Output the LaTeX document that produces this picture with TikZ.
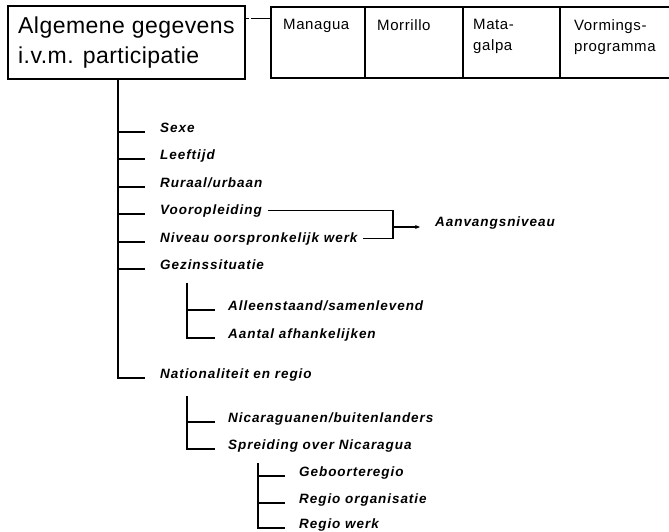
\documentclass[tikz,border=0pt]{standalone}
\usepackage{fontspec}
\setmainfont{Liberation Sans}
\newfontfamily\boxfont[LetterSpace=2]{Liberation Sans}
\newfontfamily\cellfont[LetterSpace=4]{Liberation Sans}
\newfontfamily\itemfont[LetterSpace=7]{Liberation Sans}
\usetikzlibrary{arrows.meta,calc}

\tikzset{
  rule/.style={line width=1.2pt},
  item/.style={anchor=base west, inner sep=0pt,
    font={\itemfont\bfseries\itshape\fontsize{13.5}{15}\selectfont}},
  cell/.style={draw, rule, anchor=north west, minimum height=71pt,
    inner sep=0pt, outer sep=0pt},
  celltext/.style={anchor=north west, inner sep=0pt, align=left,
    font={\cellfont\fontsize{15}{21}\selectfont}},
}

\begin{document}
\begin{tikzpicture}[x=1pt,y=-1pt]
\useasboundingbox (0,0) rectangle (669,532);

% title box
\node[draw, rule, anchor=north west, outer sep=0pt, minimum width=237pt,
      minimum height=73pt, inner sep=0pt, align=left,
      font={\boxfont\fontsize{23}{30}\selectfont}]
  (main) at (8,6) {Algemene gegevens\\i.v.m. participatie};

% header cells
\node[cell, minimum width=94pt]  (c1) at (271,7) {};
\node[cell, minimum width=98pt]  (c2) at (c1.north east) {};
\node[cell, minimum width=97pt]  (c3) at (c2.north east) {};
\node[cell, minimum width=140pt] (c4) at (c3.north east) {};
\node[celltext] (t1) at ([xshift=12pt,yshift=-12pt]c1.north west) {Managua};
\node[celltext] (t2) at ([xshift=12pt,yshift=-12pt]c2.north west) {Morrillo};
\node[celltext] (t3) at ([xshift=10pt,yshift=-12pt]c3.north west) {Mata-\\galpa};
\node[celltext] (t4) at ([xshift=14pt,yshift=-12pt]c4.north west) {Vormings-\\programma};

% link between title box and header
\coordinate (j) at ([yshift=-13pt]main.north east);
\draw[line width=1pt, dash pattern=on 4pt off 2pt on 30pt] (j) -- (j -| c1.west);

% items
\node[item] (sexe)  at (160,132) {Sexe};
\node[item] (leef)  at (160,159) {Leeftijd};
\node[item] (rur)   at (160,187) {Ruraal/urbaan};
\node[item] (voor)  at (160,214) {Vooropleiding};
\node[item] (niv)   at (160,242) {Niveau oorspronkelijk werk};
\node[item] (gez)   at (160,269) {Gezinssituatie};
\node[item] (alle)  at (228,310) {Alleenstaand/samenlevend};
\node[item] (aant)  at (228,338) {Aantal afhankelijken};
\node[item] (nat)   at (160,378) {Nationaliteit en regio};
\node[item] (nic)   at (228,422) {Nicaraguanen/buitenlanders};
\node[item] (spr)   at (228,449) {Spreiding over Nicaragua};
\node[item] (geb)   at (299,476) {Geboorteregio};
\node[item] (rorg)  at (299,503) {Regio organisatie};
\node[item] (rwerk) at (299,528) {Regio werk};
\node[item] (aanv)  at (435,226) {Aanvangsniveau};

% main trunk
\coordinate (t0) at (118,0 |- main.south);
\foreach \n in {sexe,leef,rur,voor,niv,gez}
  \draw[rule] (t0 |- \n.base) -- ([xshift=-15pt]\n.base west);
\draw[rule] (t0) |- ([xshift=-15pt]nat.base west);

% household situation
\coordinate (g1) at (187,283);
\draw[rule] (g1 |- alle.base) -- ([xshift=-13pt]alle.base west);
\draw[rule] (g1) |- ([xshift=-13pt]aant.base west);

% nationality and region
\coordinate (g2) at (187,396);
\draw[rule] (g2 |- nic.base) -- ([xshift=-13pt]nic.base west);
\draw[rule] (g2) |- ([xshift=-13pt]spr.base west);

% spread over Nicaragua
\coordinate (g3) at (258,463);
\draw[rule] (g3 |- geb.base) -- ([xshift=-14pt]geb.base west);
\draw[rule] (g3 |- rorg.base) -- ([xshift=-14pt]rorg.base west);
\draw[rule] (g3) |- ([xshift=-14pt]rwerk.base west);

% bracket to starting level
\coordinate (brk) at (393,227);
\coordinate (ae) at ([xshift=-15pt]aanv.base west);
\draw[rule] ([xshift=6pt]voor.east) -- (voor.east -| brk)
  -- (niv.east -| brk) -- ([xshift=5pt]niv.east);
\draw[rule, -{Stealth[length=5pt,width=4pt]}] (brk) -- (brk -| ae);
\end{tikzpicture}
\end{document}
